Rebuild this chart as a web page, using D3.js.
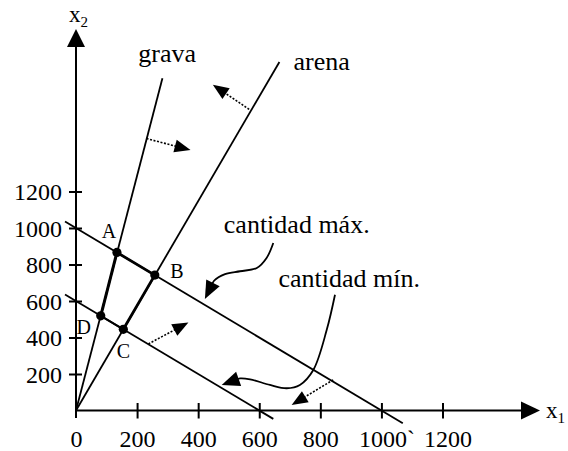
<!DOCTYPE html>
<html>
<head>
<meta charset="utf-8">
<script src="https://cdn.jsdelivr.net/npm/d3@7"></script>
<style>
  html, body { margin: 0; padding: 0; background: #fff; }
  svg { display: block; }
  text { font-family: "Liberation Serif", "Times New Roman", serif; fill: #000; }
</style>
</head>
<body>
<svg id="chart" width="568" height="451"></svg>
<script>
// ---- data (in chart units) ----
const xTickValues = [0, 200, 400, 600, 800, 1000, 1200];
const xTickLabels = ["0", "200", "400", "600", "800", "1000`", "1200"];
const yTickValues = [200, 400, 600, 800, 1000, 1200];
const yTickLabels = ["200", "400", "600", "800", "1000", "1200"];

// constraint lines (endpoints)
const gravaLine = [[0, 0], [283, 1820]];
const arenaLine = [[0, 0], [666, 1910]];
const maxLine   = [[-36, 1036], [1070, -70]];
const minLine   = [[-36, 636], [646, -46]];

// corner points of the feasible region
const pointNames = ["A", "B", "C", "D"];
const pointX = [134, 258, 155, 81];
const pointY = [866, 742, 445, 519];

// line labels
const lineLabels = ["grava", "arena", "cantidad máx.", "cantidad mín."];
const lineLabelX = [204, 712, 484, 663];
const lineLabelY = [1909, 1864, 971, 675];

// dotted direction arrows: [start, tip]
const dirArrows = [
  [[231, 1490], [375, 1427]],
  [[567, 1650], [448, 1785]],
  [[237, 365], [368, 482]],
  [[842, 168], [706, 30]]
];

// curved leader arrows (last point is the arrow tip)
const maxLeader = [[646, 918], [624, 836], [592, 781], [537, 763], [488, 747], [452, 711], [422, 611]];
const minLeader = [[848, 634], [821, 442], [777, 222], [733, 140], [690, 122], [635, 140], [570, 171], [537, 176], [477, 140]];

// ---- scales ----
const x = d3.scaleLinear().domain([0, 1200]).range([76, 442.5]);
const y = d3.scaleLinear().domain([0, 1200]).range([410.5, 191.5]);

const svg = d3.select("#chart");

function tri(g, tip, from, len, half) {
  const dx = tip[0] - from[0], dy = tip[1] - from[1];
  const L = Math.hypot(dx, dy), ux = dx / L, uy = dy / L;
  const bx = tip[0] - ux * len, by = tip[1] - uy * len;
  g.append("path")
    .attr("d", `M${tip[0]},${tip[1]}L${bx - uy * half},${by + ux * half}L${bx + uy * half},${by - ux * half}Z`)
    .attr("fill", "#000");
}

// ---- axes ----
const axisG = svg.append("g");
axisG.append("line").attr("x1", x(0)).attr("y1", 418).attr("x2", x(0)).attr("y2", 40)
  .attr("stroke", "#000").attr("stroke-width", 2);
tri(axisG, [x(0), 29], [x(0), 100], 18, 9);
axisG.append("line").attr("x1", x(0)).attr("y1", y(0)).attr("x2", 530).attr("y2", y(0))
  .attr("stroke", "#000").attr("stroke-width", 2);
tri(axisG, [540, y(0)], [400, y(0)], 19, 9);

const xAxis = svg.append("g").attr("transform", `translate(0,${y(0)})`)
  .call(d3.axisBottom(x).tickValues(xTickValues).tickFormat((d, i) => xTickLabels[i]).tickSizeOuter(0));
xAxis.select(".domain").remove();
xAxis.selectAll(".tick line").attr("y1", -7.5).attr("y2", 8).attr("stroke", "#000").attr("stroke-width", 2)
  .filter(d => d === 0).remove();
xAxis.selectAll(".tick text").attr("y", 36).attr("dy", null)
  .attr("dx", d => d >= 1000 ? 5 : 0)
  .style("font-size", "24px").style("font-family", "'Liberation Serif', serif").attr("fill", "#000");

const yAxis = svg.append("g").attr("transform", `translate(${x(0)},0)`)
  .call(d3.axisLeft(y).tickValues(yTickValues).tickFormat((d, i) => yTickLabels[i]).tickSizeOuter(0));
yAxis.select(".domain").remove();
yAxis.selectAll(".tick line").attr("x1", -7).attr("x2", 6).attr("stroke", "#000").attr("stroke-width", 2);
yAxis.selectAll(".tick text").attr("x", -14).attr("dy", "0.35em")
  .style("font-size", "24px").style("font-family", "'Liberation Serif', serif").attr("fill", "#000");

// axis titles
const xt = svg.append("text").attr("x", 546).attr("y", 418).style("font-size", "23px");
xt.append("tspan").text("x");
xt.append("tspan").attr("dy", 5).style("font-size", "15px").text("1");
const yt = svg.append("text").attr("x", 69).attr("y", 22).style("font-size", "23px");
yt.append("tspan").text("x");
yt.append("tspan").attr("dy", 5).style("font-size", "15px").text("2");

// ---- constraint lines ----
const lineGen = d3.line().x(d => x(d[0])).y(d => y(d[1]));
[gravaLine, arenaLine, maxLine, minLine].forEach(l => {
  svg.append("path").attr("d", lineGen(l)).attr("fill", "none")
    .attr("stroke", "#000").attr("stroke-width", 1.8);
});

// feasible region edges (thicker)
const P = pointNames.map((n, i) => [pointX[i], pointY[i]]);
[[0, 1, 2.8], [1, 2, 2.8], [3, 0, 3], [2, 3, 2]].forEach(([a, b, w]) => {
  svg.append("path").attr("d", lineGen([P[a], P[b]])).attr("fill", "none")
    .attr("stroke", "#000").attr("stroke-width", w);
});

// points
svg.selectAll("circle.pt").data(P).enter().append("circle")
  .attr("cx", d => x(d[0])).attr("cy", d => y(d[1])).attr("r", 4.6).attr("fill", "#000");

const labelOff = [[-8, -21], [22, -4], [0, 22], [-17, 11]];
svg.selectAll("text.pl").data(pointNames).enter().append("text")
  .attr("x", (d, i) => x(pointX[i]) + labelOff[i][0])
  .attr("y", (d, i) => y(pointY[i]) + labelOff[i][1])
  .attr("text-anchor", "middle").attr("dy", "0.35em")
  .style("font-size", "20px").text(d => d);

// line labels
svg.selectAll("text.ll").data(lineLabels).enter().append("text")
  .attr("x", (d, i) => x(lineLabelX[i])).attr("y", (d, i) => y(lineLabelY[i]))
  .style("font-size", "26px").text(d => d);

// dotted direction arrows
dirArrows.forEach(([s, t]) => {
  const ps = [x(s[0]), y(s[1])], pt = [x(t[0]), y(t[1])];
  const dx = pt[0] - ps[0], dy = pt[1] - ps[1], L = Math.hypot(dx, dy);
  const end = [pt[0] - dx / L * 14, pt[1] - dy / L * 14];
  svg.append("line").attr("x1", ps[0]).attr("y1", ps[1]).attr("x2", end[0]).attr("y2", end[1])
    .attr("stroke", "#000").attr("stroke-width", 1.6).attr("stroke-dasharray", "2,1.6");
  tri(svg, pt, ps, 16, 6.5);
});

// curved leader arrows
function leader(pts) {
  const px = pts.map(d => [x(d[0]), y(d[1])]);
  const tip = px[px.length - 1];
  const prev = px[px.length - 2];
  const dx = tip[0] - prev[0], dy = tip[1] - prev[1], L = Math.hypot(dx, dy);
  const path = px.slice(0, -1).concat([[tip[0] - dx / L * 14, tip[1] - dy / L * 14]]);
  svg.append("path").attr("d", d3.line().curve(d3.curveCatmullRom)(path))
    .attr("fill", "none").attr("stroke", "#000").attr("stroke-width", 1.8);
  tri(svg, tip, prev, 18, 7.5);
}
leader(maxLeader);
leader(minLeader);
</script>
</body>
</html>
